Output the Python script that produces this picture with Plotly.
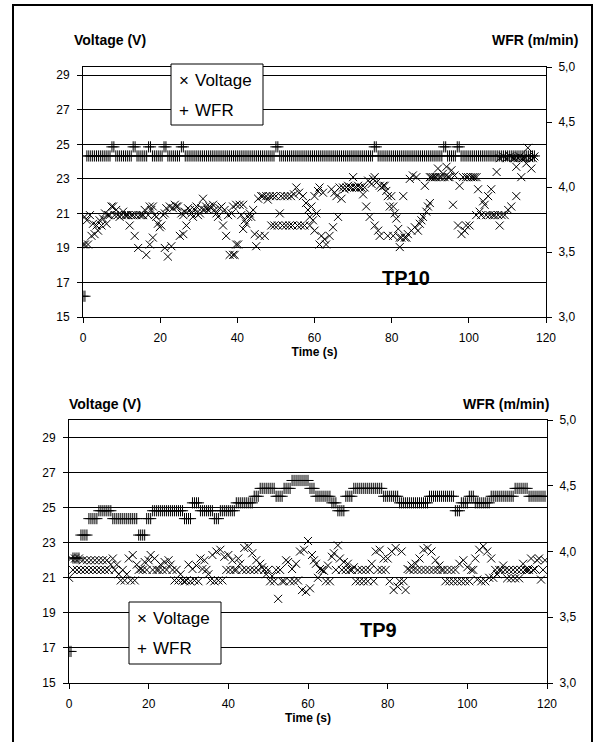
import plotly.graph_objects as go

# ---------------- TP10 (top chart) ----------------
TP10_VOLT_TIME = [0.0, 0.4, 0.5, 1.0, 1.3, 1.8, 2.2, 2.6, 3.0, 3.5, 3.9, 4.3, 4.8, 5.2, 5.7, 6.1, 6.5, 6.9,
                  7.4, 7.8, 8.2, 8.6, 9.0, 9.5, 10.0, 10.4, 10.9, 11.3, 11.7, 12.1, 12.5, 13.0, 13.4, 13.8,
                  14.3, 14.7, 15.2, 15.6, 16.0, 16.4, 16.9, 17.3, 17.3, 17.7, 18.1, 18.1, 18.6, 19.0, 19.4,
                  19.9, 20.3, 20.8, 21.2, 21.2, 21.6, 22.0, 22.5, 22.9, 23.3, 23.8, 24.2, 24.6, 25.1, 25.5,
                  26.0, 26.0, 26.4, 26.8, 27.2, 27.7, 28.1, 28.5, 29.0, 29.4, 29.8, 30.3, 30.7, 31.1, 31.5,
                  31.9, 32.4, 32.8, 33.2, 33.7, 34.1, 34.6, 35.0, 35.4, 35.9, 36.3, 36.7, 37.1, 37.6, 38.0,
                  38.5, 38.9, 38.9, 39.3, 39.7, 39.7, 40.2, 40.6, 41.0, 41.5, 41.5, 41.9, 42.3, 42.8, 43.2,
                  43.6, 44.1, 44.5, 44.9, 45.4, 45.8, 46.2, 46.6, 47.1, 47.5, 47.9, 48.4, 48.8, 49.2, 49.6,
                  50.0, 50.5, 51.0, 51.3, 51.7, 52.2, 52.6, 53.0, 53.5, 53.9, 54.3, 54.7, 55.3, 55.6, 56.0,
                  56.5, 57.0, 57.4, 57.8, 58.3, 58.8, 58.8, 59.2, 59.6, 60.0, 60.0, 60.5, 60.9, 61.3, 61.3,
                  61.8, 62.2, 62.6, 63.0, 63.9, 64.4, 64.8, 65.2, 65.7, 66.1, 66.5, 67.0, 67.4, 67.8, 68.3,
                  68.7, 69.1, 69.6, 70.0, 70.4, 70.9, 71.3, 71.7, 72.2, 72.6, 73.0, 73.4, 73.9, 74.3, 74.8,
                  75.2, 75.6, 75.6, 76.1, 76.5, 76.9, 76.9, 77.4, 77.8, 78.2, 78.6, 79.0, 79.0, 79.5, 79.9,
                  80.4, 80.4, 80.8, 81.2, 81.7, 82.1, 82.1, 82.5, 83.0, 83.4, 83.8, 84.2, 84.7, 85.1, 85.5,
                  86.0, 86.4, 86.8, 87.3, 87.7, 88.1, 88.6, 89.0, 89.4, 89.9, 89.9, 90.3, 90.7, 91.2, 91.6,
                  92.0, 92.4, 92.9, 93.3, 93.7, 94.2, 94.6, 95.0, 95.5, 95.9, 96.3, 97.2, 97.6, 98.1, 98.5,
                  98.9, 99.3, 99.3, 99.8, 100.2, 100.6, 101.1, 101.5, 101.9, 102.0, 102.4, 102.8, 103.2,
                  103.7, 104.1, 104.5, 105.0, 105.4, 105.8, 106.2, 106.7, 107.2, 107.6, 108.0, 108.0, 108.5,
                  108.9, 109.3, 109.8, 110.2, 110.7, 111.0, 111.5, 111.9, 112.3, 112.3, 112.8, 113.2, 113.6,
                  114.0, 114.5, 114.9, 115.3, 115.7, 116.2, 116.6, 117.0]
TP10_VOLT = [19.2, 20.8, 19.2, 20.6, 19.2, 20.9, 19.7, 20.4, 19.8, 20.3, 20.0, 20.6, 20.3, 20.7, 21.0, 20.4, 20.9, 20.9,
             21.4, 21.4, 20.9, 21.2, 20.9, 20.8, 20.9, 21.1, 20.9, 20.9, 20.9, 20.3, 20.9, 20.9, 19.7, 20.9,
             19.0, 20.9, 20.9, 20.9, 21.2, 18.6, 20.9, 19.2, 21.4, 21.2, 19.6, 21.4, 20.9, 20.8, 20.4,
             20.2, 20.3, 20.9, 21.0, 19.0, 21.3, 18.5, 21.4, 19.1, 21.3, 21.5, 21.4, 21.4, 19.7, 21.0,
             19.8, 20.9, 21.1, 20.3, 21.3, 21.2, 21.0, 20.8, 21.2, 21.4, 20.9, 21.0, 21.3, 21.85, 21.2,
             21.4, 21.2, 21.4, 21.3, 21.5, 21.2, 21.0, 20.8, 21.3, 21.4, 20.3, 21.2, 19.7, 20.9, 18.6,
             21.0, 18.6, 21.4, 18.6, 19.2, 21.5, 19.2, 21.5, 20.9, 21.5, 20.1, 20.6, 20.4, 20.8, 21.0,
             20.8, 21.2, 19.8, 19.1, 21.85, 19.7, 22.0, 22.0, 19.7, 22.0, 21.8, 22.0, 20.3, 22.0, 20.3,
             22.0, 20.3, 21.0, 22.0, 20.3, 22.0, 20.3, 22.0, 20.3, 22.0, 20.3, 22.1, 22.5, 20.3, 22.2,
             20.3, 22.0, 20.3, 21.6, 21.2, 20.8, 20.3, 21.4, 20.6, 22.0, 20.0, 21.0, 22.3, 22.5, 19.2,
             19.7, 22.2, 19.5, 19.2, 19.7, 22.4, 20.2, 22.2, 22.0, 20.8, 22.5, 21.85, 22.5, 22.4, 22.5,
             22.6, 22.5, 22.5, 23.1, 22.5, 22.5, 22.6, 22.5, 22.5, 22.1, 22.5, 21.4, 22.9, 20.8, 22.7,
             23.0, 23.1, 20.3, 22.8, 20.0, 22.6, 19.7, 22.5, 22.6, 22.6, 22.3, 19.7, 22.0, 21.4, 22.0,
             19.7, 21.4, 21.0, 20.7, 20.1, 19.6, 19.05, 19.6, 22.0, 19.6, 19.6, 19.8, 23.0, 20.0, 23.2,
             20.2, 23.1, 20.0, 20.4, 20.6, 20.8, 22.6, 21.1, 21.4, 21.6, 23.1, 23.1, 23.1, 23.1, 23.1,
             23.6, 23.1, 23.1, 23.3, 23.1, 23.7, 23.1, 23.1, 23.5, 21.5, 23.2, 20.3, 22.6, 19.8, 23.1,
             20.0, 20.3, 23.1, 23.1, 20.3, 23.1, 23.1, 23.1, 20.9, 23.1, 22.4, 21.1, 20.9,
             21.7, 21.5, 20.9, 22.0, 20.9, 22.4, 20.9, 20.9, 23.4, 20.9, 20.3, 24.2, 20.9,
             24.3, 20.9, 24.2, 21.2, 24.3, 21.4, 24.2, 24.2, 22.0, 23.7, 24.2, 24.3, 23.1,
             24.2, 24.2, 23.9, 24.8, 24.2, 23.6, 24.2, 24.3]

# WFR sampled every 0.5 s from t = 0 s (m/min)
TP10_WFR = [3.16, 3.16,
            4.24, 4.24, 4.24, 4.24, 4.24, 4.24, 4.24, 4.24, 4.24, 4.24, 4.24, 4.24, 4.24,
            4.31, 4.31,
            4.24, 4.24, 4.24, 4.24, 4.24, 4.24, 4.24, 4.24, 4.24,
            4.31, 4.31,
            4.24, 4.24, 4.24, 4.24, 4.24, 4.24,
            4.31, 4.31,
            4.24, 4.24, 4.24, 4.24, 4.24, 4.24,
            4.31, 4.31,
            4.24, 4.24, 4.24, 4.24, 4.24, 4.24, 4.24,
            4.31, 4.31,
            4.24, 4.24, 4.24, 4.24, 4.24, 4.24, 4.24, 4.24, 4.24, 4.24, 4.24, 4.24, 4.24, 4.24, 4.24, 4.24,
            4.24, 4.24, 4.24, 4.24, 4.24, 4.24, 4.24, 4.24, 4.24, 4.24, 4.24, 4.24, 4.24, 4.24, 4.24, 4.24,
            4.24, 4.24, 4.24, 4.24, 4.24, 4.24, 4.24, 4.24, 4.24, 4.24, 4.24, 4.24, 4.24, 4.24, 4.24,
            4.31, 4.31,
            4.24, 4.24, 4.24, 4.24, 4.24, 4.24, 4.24, 4.24, 4.24, 4.24, 4.24, 4.24, 4.24, 4.24, 4.24, 4.24,
            4.24, 4.24, 4.24, 4.24, 4.24, 4.24, 4.24, 4.24, 4.24, 4.24, 4.24, 4.24, 4.24, 4.24, 4.24, 4.24,
            4.24, 4.24, 4.24, 4.24, 4.24, 4.24, 4.24, 4.24, 4.24, 4.24, 4.24, 4.24, 4.24, 4.24, 4.24, 4.24,
            4.24,
            4.31, 4.31,
            4.24, 4.24, 4.24, 4.24, 4.24, 4.24, 4.24, 4.24, 4.24, 4.24, 4.24, 4.24, 4.24, 4.24, 4.24, 4.24,
            4.24, 4.24, 4.24, 4.24, 4.24, 4.24, 4.24, 4.24, 4.24, 4.24, 4.24, 4.24, 4.24, 4.24, 4.24, 4.24,
            4.24, 4.24,
            4.31, 4.31,
            4.24, 4.24, 4.24, 4.24, 4.24,
            4.31, 4.31,
            4.24, 4.24, 4.24, 4.24, 4.24, 4.24, 4.24, 4.24, 4.24, 4.24, 4.24, 4.24, 4.24, 4.24, 4.24, 4.24,
            4.24, 4.24, 4.24, 4.24, 4.24, 4.24, 4.24, 4.24, 4.24, 4.24, 4.24, 4.24, 4.24, 4.24, 4.24, 4.24,
            4.24, 4.24, 4.24, 4.24, 4.24, 4.24, 4.24]

# ---------------- TP9 (bottom chart), sampled every 0.5 s ----------------
TP9_VOLT = [21.0, 22.1, 21.45, 22.1, 21.45, 22.1, 21.45, 22.0, 21.45, 22.0, 21.45, 22.0,
            21.45, 22.0, 21.45, 22.0, 21.45, 22.0, 21.45, 22.0, 21.45, 21.75, 22.1, 21.45,
            21.75, 21.2, 20.85, 21.45, 20.85, 21.2, 22.1, 20.85, 22.3, 20.85, 21.75, 21.45,
            21.5, 21.45, 21.9, 21.45, 22.0, 22.3, 21.45, 22.1, 21.45, 21.45, 21.75, 21.45,
            21.9, 21.45, 22.0, 21.75, 21.45, 20.85, 21.45, 20.85, 21.2, 20.85, 20.8, 20.85,
            21.75, 20.8, 21.5, 20.85, 21.7, 20.8, 22.1, 21.5, 22.0, 21.45, 21.2, 20.85,
            22.3, 20.8, 22.5, 20.85, 22.6, 20.85, 22.2, 21.45, 22.3, 21.45, 22.0, 21.45,
            21.45, 22.1, 21.8, 21.45, 22.7, 21.45, 22.78, 21.45, 22.4, 21.45, 22.0, 21.45,
            21.8, 21.6, 21.45, 21.2, 21.45, 20.8, 21.1, 20.8, 21.45, 19.8, 21.45, 20.8,
            20.8, 22.0, 21.9, 20.8, 21.5, 20.8, 21.8, 20.85, 22.5, 20.3, 22.6, 20.2,
            23.1, 20.4, 22.3, 22.0, 21.8, 21.0, 21.5, 21.45, 21.4, 20.8, 21.7, 20.8,
            22.2, 22.4, 21.45, 22.85, 22.1, 21.45, 21.9, 21.45, 21.8, 21.45, 21.45, 21.6,
            20.8, 21.45, 20.8, 21.45, 20.8, 21.45, 20.8, 21.45, 21.8, 20.8, 22.5, 21.45,
            22.6, 21.45, 22.1, 21.45, 22.1, 20.8, 22.5, 20.3, 22.7, 20.5, 20.8, 22.5,
            20.8, 20.3, 21.5, 21.45, 21.7, 21.45, 21.8, 21.45, 22.1, 21.45, 22.6, 21.45,
            22.7, 21.45, 22.5, 21.45, 22.0, 21.45, 21.7, 21.45, 21.45, 20.8, 21.45, 20.8,
            21.45, 20.8, 21.45, 20.8, 21.8, 20.8, 22.0, 20.8, 21.6, 20.8, 21.45, 21.45,
            22.1, 20.9, 22.6, 20.8, 22.8, 20.8, 22.5, 21.0, 22.1, 21.0, 21.45, 21.2,
            21.45, 21.45, 21.7, 21.45, 20.97, 21.45, 20.97, 21.45, 20.97, 21.45, 20.97, 21.45,
            21.8, 21.45, 21.45, 21.45, 22.1, 21.45, 21.5, 22.0, 22.1, 20.9, 21.45, 22.0]

TP9_WFR = [3.24, 3.24,
           3.95, 3.95, 3.95, 3.95,
           4.125, 4.125, 4.125, 4.125,
           4.25, 4.25, 4.25, 4.25, 4.25,
           4.31, 4.31, 4.31, 4.31, 4.31, 4.31, 4.31,
           4.25, 4.25, 4.25, 4.25, 4.25, 4.25, 4.25, 4.25, 4.25, 4.25, 4.25, 4.25, 4.25,
           4.125, 4.125, 4.125, 4.125,
           4.25, 4.25, 4.25,
           4.31, 4.31, 4.31, 4.31, 4.31, 4.31, 4.31, 4.31, 4.31, 4.31, 4.31, 4.31, 4.31, 4.31, 4.31, 4.31,
           4.25, 4.25, 4.25, 4.25,
           4.37, 4.37, 4.37, 4.37,
           4.31, 4.31, 4.31, 4.31, 4.31, 4.31, 4.31,
           4.25, 4.25, 4.25,
           4.31, 4.31, 4.31, 4.31, 4.31, 4.31, 4.31, 4.31,
           4.37, 4.37, 4.37, 4.37, 4.37, 4.37, 4.37, 4.37, 4.37,
           4.42, 4.42, 4.42,
           4.48, 4.48, 4.48, 4.48, 4.48, 4.48, 4.48, 4.48,
           4.42, 4.42, 4.42, 4.42,
           4.48, 4.48, 4.48, 4.48,
           4.54, 4.54, 4.54, 4.54, 4.54, 4.54, 4.54, 4.54, 4.54,
           4.48, 4.48, 4.48,
           4.42, 4.42, 4.42, 4.42, 4.42, 4.42, 4.42, 4.42,
           4.37, 4.37, 4.37,
           4.31, 4.31, 4.31, 4.31,
           4.42, 4.42, 4.42, 4.42,
           4.48, 4.48, 4.48, 4.48, 4.48, 4.48, 4.48, 4.48, 4.48, 4.48, 4.48, 4.48, 4.48, 4.48, 4.48,
           4.42, 4.42, 4.42, 4.42, 4.42, 4.42, 4.42, 4.42,
           4.37, 4.37, 4.37, 4.37, 4.37, 4.37, 4.37, 4.37, 4.37, 4.37, 4.37, 4.37, 4.37, 4.37, 4.37,
           4.42, 4.42, 4.42, 4.42, 4.42, 4.42, 4.42, 4.42, 4.42, 4.42, 4.42, 4.42, 4.42,
           4.31, 4.31, 4.31,
           4.37, 4.37, 4.37, 4.37,
           4.42, 4.42, 4.42,
           4.37, 4.37, 4.37, 4.37, 4.37, 4.37, 4.37, 4.37,
           4.42, 4.42, 4.42, 4.42, 4.42, 4.42, 4.42, 4.42, 4.42, 4.42, 4.42, 4.42,
           4.48, 4.48, 4.48, 4.48, 4.48, 4.48, 4.48,
           4.42, 4.42, 4.42, 4.42, 4.42, 4.42, 4.42, 4.42, 4.42]

SAMPLE_STEP = 0.5
X_TICKS = [0, 20, 40, 60, 80, 100, 120]
VOLT_TICKS = [15, 17, 19, 21, 23, 25, 27, 29]
WFR_TICK_TEXT = ["3,0", "3,5", "4,0", "4,5", "5,0"]
TOP_WFR_TICKS = [3.0, 3.5, 4.0, 4.5, 4.925]
BOT_WFR_TICKS = [3.0, 3.5, 4.0, 4.5, 5.0]
SERIES_NAMES = ["Voltage", "WFR"]
SERIES_GLYPHS = ["×", "+"]

W, H = 605, 742
FONT = "Liberation Sans, Arial, sans-serif"


def px_x(p):
    return p / W


def px_y(p):
    return 1 - p / H


vmark = dict(symbol="x-thin", size=8, color="black", line=dict(width=1, color="black"))
wmark = dict(symbol="cross-thin", size=8, color="black", line=dict(width=1, color="black"))

fig = go.Figure()
fig.add_trace(go.Scatter(x=TP10_VOLT_TIME, y=TP10_VOLT, mode="markers", name=SERIES_NAMES[0],
                         marker=vmark, xaxis="x", yaxis="y", showlegend=False))
fig.add_trace(go.Scatter(y=TP10_WFR, x0=0, dx=SAMPLE_STEP, mode="markers", name=SERIES_NAMES[1],
                         marker=wmark, xaxis="x", yaxis="y2", showlegend=False))
fig.add_trace(go.Scatter(y=TP9_VOLT, x0=0, dx=SAMPLE_STEP, mode="markers", name=SERIES_NAMES[0],
                         marker=vmark, xaxis="x2", yaxis="y3", showlegend=False))
fig.add_trace(go.Scatter(y=TP9_WFR, x0=0, dx=SAMPLE_STEP, mode="markers", name=SERIES_NAMES[1],
                         marker=wmark, xaxis="x2", yaxis="y4", showlegend=False))

tickfont = dict(family=FONT, size=12, color="black")
common_x = dict(range=[0, 120], tickvals=X_TICKS, ticks="outside", ticklen=5, tickcolor="black",
                showline=True, linecolor="black", linewidth=1, mirror=True, showgrid=False,
                zeroline=False, tickfont=tickfont, ticklabelstandoff=5, automargin=False,
                title=dict(text="<b>Time (s)</b>", font=dict(family=FONT, size=12, color="black"), standoff=0))
common_yl = dict(tickvals=VOLT_TICKS, ticks="outside", ticklen=5, tickcolor="black", showline=True,
                 linecolor="black", linewidth=1, showgrid=True, gridcolor="black", gridwidth=1,
                 zeroline=False, tickfont=tickfont, ticklabelstandoff=5, automargin=False)
common_yr = dict(side="right", ticks="outside", ticklen=5, tickcolor="black", showline=True,
                 linecolor="black", linewidth=1, showgrid=False, zeroline=False, tickfont=tickfont,
                 ticktext=WFR_TICK_TEXT, ticklabelstandoff=4, automargin=False)

top_x = [px_x(83), px_x(546)]
top_y = [px_y(317), px_y(67)]
bot_x = [px_x(69), px_x(547)]
bot_y = [px_y(683), px_y(420)]

fig.update_layout(
    width=W, height=H, autosize=False,
    margin=dict(l=0, r=0, t=0, b=0, pad=0, autoexpand=False),
    paper_bgcolor="white", plot_bgcolor="white",
    font=dict(family=FONT, color="black"),
    showlegend=False,
    xaxis=dict(domain=top_x, anchor="y", **common_x),
    yaxis=dict(domain=top_y, anchor="x", range=[15, 29.48], **common_yl),
    yaxis2=dict(overlaying="y", anchor="x", range=[3.0, 4.925], tickvals=TOP_WFR_TICKS, **common_yr),
    xaxis2=dict(domain=bot_x, anchor="y3", **common_x),
    yaxis3=dict(domain=bot_y, anchor="x2", range=[15, 30], **common_yl),
    yaxis4=dict(overlaying="y3", anchor="x2", range=[3.0, 5.0], tickvals=BOT_WFR_TICKS, **common_yr),
)

ann_font = dict(family=FONT, size=14, color="black")
fig.add_annotation(text="<b>Voltage (V)</b>", x=px_x(72), y=px_y(40), xref="paper", yref="paper",
                   xanchor="left", yanchor="middle", showarrow=False, font=ann_font)
fig.add_annotation(text="<b>WFR (m/min)</b>", x=px_x(580), y=px_y(40), xref="paper", yref="paper",
                   xanchor="right", yanchor="middle", showarrow=False, font=ann_font)
fig.add_annotation(text="<b>Voltage (V)</b>", x=px_x(67), y=px_y(404), xref="paper", yref="paper",
                   xanchor="left", yanchor="middle", showarrow=False, font=ann_font)
fig.add_annotation(text="<b>WFR (m/min)</b>", x=px_x(551), y=px_y(404), xref="paper", yref="paper",
                   xanchor="right", yanchor="middle", showarrow=False, font=ann_font)
fig.add_annotation(text="<b>TP10</b>", x=px_x(406), y=px_y(278), xref="paper", yref="paper",
                   xanchor="center", yanchor="middle", showarrow=False,
                   font=dict(family=FONT, size=20, color="black"))
fig.add_annotation(text="<b>TP9</b>", x=px_x(378), y=px_y(630), xref="paper", yref="paper",
                   xanchor="center", yanchor="middle", showarrow=False,
                   font=dict(family=FONT, size=20, color="black"))

# legends (boxed, as in the original): (left, top, right, bottom, first-row y, second-row y)
LEGEND_BOXES = [(171, 64, 263, 125, 81, 110), (129, 602, 221, 664, 618, 648)]
leg_font = dict(family=FONT, size=17, color="black")
for (l, t, r, b, r1, r2) in LEGEND_BOXES:
    fig.add_shape(type="rect", xref="paper", yref="paper", x0=px_x(l), x1=px_x(r), y0=px_y(b), y1=px_y(t),
                  line=dict(color="black", width=1), fillcolor="white", layer="above")
    for glyph, name, ry in zip(SERIES_GLYPHS, SERIES_NAMES, (r1, r2)):
        fig.add_annotation(text=glyph, x=px_x(l + 13), y=px_y(ry), xref="paper", yref="paper",
                           xanchor="center", yanchor="middle", showarrow=False, font=leg_font)
        fig.add_annotation(text=name, x=px_x(l + 22), y=px_y(ry), xref="paper", yref="paper",
                           xanchor="left", yanchor="middle", showarrow=False, font=leg_font)

# outer frame
fig.add_shape(type="rect", xref="paper", yref="paper", x0=px_x(13), x1=px_x(592), y0=px_y(760),
              y1=px_y(5), line=dict(color="black", width=2), fillcolor="rgba(0,0,0,0)", layer="above")

fig.write_html("out.html", config={"displayModeBar": False},
               post_script="document.body.style.margin='0px';document.body.style.overflow='hidden';")
